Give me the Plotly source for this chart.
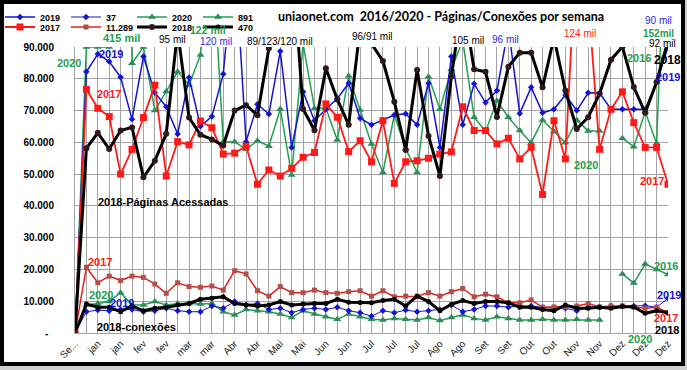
import plotly.graph_objects as go

weeks = list(range(53))
tick_labels = ["Se...", "jan", "jan", "fev", "fev", "mar", "mar", "Abr", "Abr", "Mai", "Mai",
               "Jun", "Jun", "Jul", "Jul", "Jul", "Ago", "Ago", "Set", "Set", "Out", "Out",
               "Nov", "Nov", "Dez", "Dez", "Dez"]
y_tick_vals = [0, 10000, 20000, 30000, 40000, 50000, 60000, 70000, 80000, 90000]
y_tick_text = ["-\u00a0\u00a0", "10.000", "20.000", "30.000", "40.000", "50.000",
               "60.000", "70.000", "80.000", "90.000"]

# Páginas acessadas por semana
pages_2019 = [0, 82200, 87800, 85400, 80500, 67300, 87000, 75600, 71200, 62600, 80400,
              65100, 68100, 81500, 120000, 60200, 72000, 68900, 88700, 58400, 75900,
              66800, 70400, 73800, 78600, 67600, 65500, 67000, 68600, 69000, 65500,
              78600, 58400, 87000, 65500, 78400, 72500, 76300, 96000, 69100, 77300,
              69300, 70400, 74900, 70000, 75600, 75500, 70400, 70400, 70400, 70400,
              79000, 90000]
pages_2017 = [0, 76700, 70700, 68100, 50000, 57800, 67800, 78000, 49400, 60200, 59200,
              66700, 64600, 56300, 56600, 58800, 46800, 51300, 49400, 51800, 55300,
              56800, 72100, 67900, 57100, 60500, 53900, 66800, 47100, 53900, 54200,
              55000, 56300, 57000, 71200, 63700, 63700, 59500, 61300, 54800, 58400,
              43600, 66800, 54800, 124000, 105000, 57800, 70400, 75900, 66200, 58400,
              58400, 46800]
pages_2020 = [0, 90000, 90000, 90000, 415000, 84900, 90000, 70000, 76000, 82200, 78000,
              87500, 122000, 60200, 60200, 57800, 60500, 58800, 70500, 49700, 91000,
              70700, 70700, 60700, 80900, 70200, 59500, 50500, 68600, 58000, 50500,
              80600, 70400, 83000, 92000, 67900, 63400, 73100, 67900, 63700, 59900,
              67000, 63400, 59900, 67000, 63600, 63600, None, 61300, 58600, 69600,
              59700, 152000]
pages_2018 = [0, 58100, 63000, 57900, 63700, 64700, 49000, 54200, 62700, 95000, 67800,
              62400, 60900, 59000, 70000, 71700, 68500, 89600, 123000, 120000, 70500,
              63800, 83300, 73500, 65500, 96000, 91000, 85600, 72800, 57600, 82800,
              62000, 49400, 80700, 105000, 83000, 82200, 68000, 83800, 88200, 88200,
              77300, 93000, 76300, 64200, 67900, 75300, 86000, 90100, 77400, 69300,
              79000, 92000]

# Conexões por semana
conn_2019 = [0, 6700, 7200, 7000, 7400, 7400, 6700, 7000, 7800, 7000, 6700, 6700, 8500,
             7800, 9900, 8800, 9300, 7400, 7800, 6400, 7400, 7800, 7400, 8100, 7000, 6400,
             5300, 7000, 6400, 7200, 6700, 7000, 7400, 8800, 6700, 7400, 8500, 8500, 8100,
             8500, 8500, 8100, 7800, 7800, 7000, 8100, 8200, 8500, 8500, 8500, 8600, 8100,
             10900]
conn_2017 = [0, 20700, 15800, 17900, 16500, 17900, 17500, 15400, 12500, 15800, 14600,
             14400, 14800, 13500, 19600, 18600, 13300, 11600, 14600, 12700, 12700, 13500,
             12700, 12500, 13000, 13300, 11600, 13300, 11400, 11600, 11600, 12700, 11600,
             13000, 14000, 11400, 12200, 11400, 9500, 9500, 10400, 8100, 8200, 8200, 8500,
             9300, 8200, 8500, 8500, 8200, 7800, 8100, 6400]
conn_2020 = [0, 8800, 9300, 9900, 12700, 8800, 8800, 9900, 8800, 9300, 9300, 9100, 9300,
             6700, 5700, 7400, 7000, 6700, 6000, 4900, 7000, 6000, 5100, 4300, 6000, 5100,
             4300, 4100, 4600, 4300, 4100, 4900, 3900, 4900, 5700, 4600, 4100, 5100, 4600,
             4100, 4100, 4300, 4100, 4100, 4300, 4100, 4100, None, 18600, 15700, 21700,
             20000, 18400]
conn_2018 = [0, 9100, 8100, 8100, 6700, 8500, 7000, 7800, 8100, 8800, 9300, 10600, 10900,
             11400, 9300, 8800, 8500, 8800, 9900, 8800, 9100, 9300, 9300, 10600, 9700, 9600,
             9500, 10200, 10600, 8500, 11600, 9900, 7000, 9000, 10200, 9300, 9900, 9900,
             9500, 8100, 8100, 7400, 7000, 8800, 7800, 7800, 8100, 7800, 8300, 8200, 6200,
             7000, 6400]

BLUE = "#1414d2"
RED = "#ff1a1a"
GREEN = "#23a04e"
GREEN_M = "#2f8a5c"
BLACK = "#000000"

fig = go.Figure()


def add(name, y, color, width, symbol, msize, mcolor, legend, rank):
    fig.add_trace(go.Scatter(
        x=weeks, y=y, name=name, mode="lines+markers", connectgaps=False,
        line=dict(color=color, width=width),
        marker=dict(symbol=symbol, size=msize, color=mcolor, line=dict(width=0)),
        legend=legend, legendrank=rank))


add("891", conn_2020, GREEN, 1.5, "triangle-up", 7, GREEN_M, "legend", 4)
add("37", conn_2019, BLUE, 1, "diamond", 5, BLUE, "legend", 2)
add("11.289", conn_2017, "#e02020", 1.5, "square", 5, "#b0504a", "legend2", 2)
add("470", conn_2018, BLACK, 3, "circle", 5, BLACK, "legend2", 4)
add("2020", pages_2020, GREEN, 1.5, "triangle-up", 7, GREEN_M, "legend", 3)
add("2019", pages_2019, BLUE, 1.5, "diamond", 5, BLUE, "legend", 1)
add("2017", pages_2017, RED, 1.8, "square", 7, RED, "legend2", 1)
add("2018", pages_2018, BLACK, 3, "circle", 6, "#301818", "legend2", 3)

L, R, T, B = 75, 19, 47, 37
W, H = 687, 370
PW, PH = W - L - R, H - T - B


def PX(px):
    return (px - L) / PW


def PY(py):
    return (H - B - py) / PH


ann_font = "Liberation Sans"
notes = [
    ("415 mil", 121, 38, GREEN, 11, "bold"),
    ("95 mil", 172, 39, BLACK, 10, "normal"),
    ("122 mil", 208, 30, GREEN, 10.5, "bold"),
    ("120 mil", 216, 42, "#2a2ad8", 10, "normal"),
    ("89/123/120 mil", 280, 42, BLACK, 10, "normal"),
    ("96/91 mil", 372, 37, BLACK, 10, "normal"),
    ("105 mil", 468, 41, BLACK, 10, "normal"),
    ("96 mil", 505, 39, "#2a2ad8", 10, "normal"),
    ("124 mil", 580, 33, RED, 10, "normal"),
    ("90 mil", 658, 20, "#2a2ad8", 10, "normal"),
    ("152mil", 658, 33, GREEN, 10, "bold"),
    ("92 mil", 662, 43, BLACK, 10, "normal"),
    ("2016", 639, 58, GREEN, 11, "bold"),
    ("2018", 667, 60, BLACK, 12, "bold"),
    ("2019", 668, 77, BLUE, 11, "bold"),
    ("2019", 111, 54, BLUE, 11, "bold"),
    ("2020", 69, 63, GREEN, 11, "bold"),
    ("2017", 109, 94, RED, 11, "bold"),
    ("2018-Páginas Acessadas", 163, 202, BLACK, 11, "bold"),
    ("2020", 586, 165, GREEN, 11, "bold"),
    ("2017", 652, 181, RED, 11, "bold"),
    ("2017", 100, 262, RED, 11, "bold"),
    ("2020", 101, 295, GREEN, 11, "bold"),
    ("2019", 122, 303, BLUE, 11, "bold"),
    ("2018-conexões", 136, 327, BLACK, 11, "bold"),
    ("2016", 666, 266, GREEN, 11, "bold"),
    ("2019", 669, 295, BLUE, 11, "bold"),
    ("2017", 666, 318, RED, 11, "bold"),
    ("2018", 667, 330, BLACK, 11, "bold"),
    ("2020", 640, 339, GREEN, 11, "bold"),
]
annotations = []
for text, cx, cy, col, size, weight in notes:
    annotations.append(dict(
        text=text, x=PX(cx), y=PY(cy), xref="paper", yref="paper",
        xanchor="center", yanchor="middle", showarrow=False,
        font=dict(family=ann_font, size=size, color=col, weight=weight)))

annotations.append(dict(
    text="uniaonet.com  2016/2020 - Páginas/Conexões por semana",
    x=PX(441), y=PY(16), xref="paper", yref="paper", xanchor="center", yanchor="middle",
    showarrow=False, font=dict(family="Lato", size=12.5, color=BLACK, weight="bold")))

grid = "#a3a3a3"
fig.update_layout(
    width=W, height=H,
    margin=dict(l=L, r=R, t=T, b=B, pad=0, autoexpand=False),
    paper_bgcolor="#cfcfcf", plot_bgcolor="white",
    font=dict(family="Liberation Sans", color=BLACK),
    annotations=annotations,
    shapes=[dict(type="rect", xref="paper", yref="paper",
                 x0=PX(2), x1=PX(683), y0=PY(364), y1=PY(2),
                 fillcolor="white", line=dict(color="black", width=4), layer="below")],
    xaxis=dict(range=[0, 52], tickmode="array", tickvals=weeks,
               ticktext=[tick_labels[i // 2] if i % 2 == 0 else "" for i in weeks],
               tickangle=-45, showgrid=True, gridcolor=grid, gridwidth=1,
               showline=True, linecolor=grid, zeroline=False, ticks="",
               automargin=False,
               tickfont=dict(family="Liberation Sans", size=10, color="#222222")),
    yaxis=dict(range=[0, 90000], tickmode="array", tickvals=y_tick_vals,
               ticktext=y_tick_text, showgrid=True, gridcolor=grid, gridwidth=1,
               showline=True, linecolor=grid, zeroline=False, ticks="",
               ticklabelstandoff=18, automargin=False,
               tickfont=dict(family="Liberation Sans", size=10, color=BLACK, weight="bold")),
    legend=dict(orientation="h", x=PX(0), y=PY(17), xanchor="left", yanchor="middle",
                entrywidth=21, bgcolor="rgba(0,0,0,0)", traceorder="normal",
                font=dict(family="Liberation Sans", size=9, weight="bold"),
                itemclick=False, itemdoubleclick=False),
    legend2=dict(orientation="h", x=PX(0), y=PY(27), xanchor="left", yanchor="middle",
                 entrywidth=21, bgcolor="rgba(0,0,0,0)", traceorder="normal",
                 font=dict(family="Liberation Sans", size=9, weight="bold"),
                 itemclick=False, itemdoubleclick=False),
)

fig.write_html("out.html", config={"displayModeBar": False},
               post_script="document.body.style.margin='0px';"
                           "document.body.style.overflow='hidden';")
